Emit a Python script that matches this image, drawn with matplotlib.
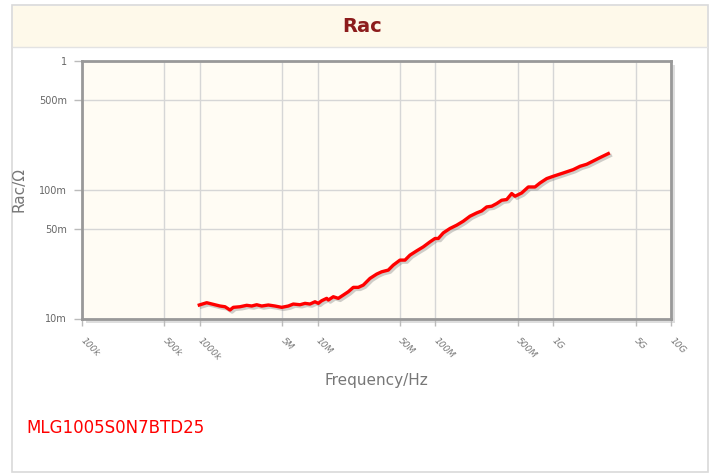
import matplotlib.pyplot as plt
import matplotlib.patheffects as pe
from matplotlib.patches import Rectangle
from matplotlib.lines import Line2D

freq_hz = [
    0.99e6, 1.144e6, 1.302e6, 1.484e6, 1.637e6, 1.805e6, 1.925e6, 2.194e6,
    2.501e6, 2.758e6, 3.041e6, 3.354e6, 3.815e6, 4.349e6, 4.957e6, 5.641e6,
    6.218e6, 7.089e6, 7.816e6, 8.618e6, 9.504e6, 1.014e7, 1.083e7, 1.195e7,
    1.233e7, 1.359e7, 1.498e7, 1.653e7, 1.822e7, 2.010e7, 2.216e7, 2.443e7,
    2.785e7, 3.175e7, 3.501e7, 3.982e7, 4.391e7, 5.005e7, 5.520e7, 6.085e7,
    6.938e7, 7.894e7, 8.999e7, 9.923e7, 1.058e8, 1.167e8, 1.330e8, 1.516e8,
    1.725e8, 1.967e8, 2.242e8, 2.472e8, 2.726e8, 3.006e8, 3.315e8, 3.654e8,
    4.030e8, 4.443e8, 4.740e8, 5.403e8, 6.146e8, 7.006e8, 7.726e8, 8.808e8,
    1.002e9, 1.218e9, 1.481e9, 1.689e9, 1.925e9, 2.190e9, 2.496e9, 2.936e9,
]
rac_ohm = [
    0.01273, 0.01326, 0.01288, 0.01250, 0.01234, 0.01164, 0.01221, 0.01234,
    0.01266, 0.01250, 0.01279, 0.01250, 0.01273, 0.01250, 0.01221, 0.01250,
    0.01295, 0.01279, 0.01311, 0.01295, 0.01349, 0.01311, 0.01374, 0.01434,
    0.01391, 0.01476, 0.01434, 0.01521, 0.01614, 0.01745, 0.01745, 0.01818,
    0.02049, 0.02213, 0.02306, 0.02377, 0.02599, 0.02842, 0.02842, 0.03107,
    0.03354, 0.03602, 0.03938, 0.04183, 0.04183, 0.04624, 0.05003, 0.05307,
    0.05699, 0.06232, 0.06609, 0.06849, 0.07356, 0.07448, 0.07816, 0.08291,
    0.08395, 0.09344, 0.08906, 0.09445, 0.1051, 0.1051, 0.1129, 0.1221,
    0.1273, 0.1350, 0.1434, 0.1521, 0.1577, 0.1673, 0.1777, 0.1909,
]

x_ticks = [1e5, 5e5, 1e6, 5e6, 1e7, 5e7, 1e8, 5e8, 1e9, 5e9, 1e10]
x_labels = ["100k", "500k", "1000k", "5M", "10M", "50M", "100M", "500M", "1G", "5G", "10G"]
y_ticks = [1e-2, 5e-2, 1e-1, 5e-1, 1]
y_labels = ["10m", "50m", "100m", "500m", "1"]

W, H = 717, 475
fig = plt.figure(figsize=(W / 100, H / 100), dpi=100)
fig.patch.set_facecolor("white")


def fx(px):
    return px / W


def fy(py):
    return 1 - py / H


# card border and header band
fig.add_artist(Rectangle((fx(12), fy(472)), fx(696), 467 / H, transform=fig.transFigure,
                         facecolor="white", edgecolor="#d9d9d9", lw=1.2, zorder=0))
fig.add_artist(Rectangle((fx(13), fy(47)), fx(694), 41 / H, transform=fig.transFigure,
                         facecolor="#fef9ea", edgecolor="none", zorder=0.5))
fig.add_artist(Line2D([fx(13), fx(707)], [fy(47), fy(47)], transform=fig.transFigure,
                      color="#e3e3e3", lw=1, zorder=0.6))
fig.text(fx(362), fy(26), "Rac", ha="center", va="center", fontsize=14,
         fontweight="bold", color="#8c1c1c")

# plot frame shadow
L, R, T, B = 82, 671, 61, 318.5
fig.add_artist(Rectangle((fx(L + 4), fy(B + 4)), fx(R - L), (B - T) / H,
                         transform=fig.transFigure, facecolor="#dedede",
                         edgecolor="none", zorder=0.8))

ax = fig.add_axes([fx(L), fy(B), fx(R - L), (B - T) / H])
ax.set_zorder(2)
ax.set_facecolor("#fffcf4")
ax.set_xscale("log")
ax.set_yscale("log")
ax.set_xlim(1e5, 1e10)
ax.set_ylim(1e-2, 1)

ax.plot(freq_hz, rac_ohm, color="#ff0000", lw=2.4, solid_joinstyle="round",
        path_effects=[pe.SimpleLineShadow(offset=(1.5, -1.5), shadow_color="#777777", alpha=0.35),
                      pe.Normal()], zorder=3)

ax.set_xticks(x_ticks)
ax.set_xticklabels(x_labels, rotation=-45, ha="left", va="center",
                   rotation_mode="anchor", fontsize=6.5, color="#777777", style="italic")
ax.set_yticks(y_ticks)
ax.set_yticklabels(y_labels, fontsize=7, color="#666666")
ax.minorticks_off()
ax.tick_params(axis="x", length=5, width=1, color="#bbbbbb", pad=10)
ax.tick_params(axis="y", length=6, width=1, color="#bbbbbb", pad=5)
ax.grid(True, color="#d6d6d6", lw=1)
ax.set_axisbelow(True)
for s in ax.spines.values():
    s.set_color("#999999")
    s.set_linewidth(2)

fig.text(fx(376), fy(380), "Frequency/Hz", ha="center", va="center",
         fontsize=11, color="#777777")
fig.text(fx(19), fy(190), "Rac/Ω", ha="center", va="center", rotation=90,
         fontsize=11, color="#777777")
fig.text(fx(26), fy(428), "MLG1005S0N7BTD25", ha="left", va="center",
         fontsize=12, color="#ff0000")

fig.savefig("out.png", dpi=100)
